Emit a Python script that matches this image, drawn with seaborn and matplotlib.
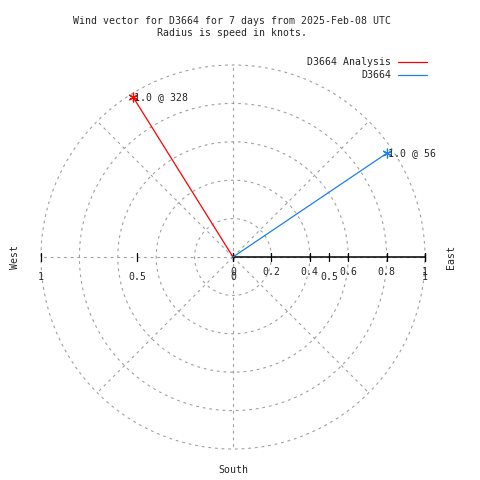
import numpy as np
import pandas as pd
import matplotlib
matplotlib.use("Agg")
import matplotlib.pyplot as plt
import seaborn as sns

# =====================
# Data
# =====================
series_names = ["D3664 Analysis", "D3664"]
speeds = [0.98, 0.97]        # knots (labelled 1.0)
directions = [328, 56]       # degrees, clockwise from north
series_colors = ["#ff0000", "#1a80f0"]

ring_radii = [0.2, 0.4, 0.6, 0.8, 1.0]
spoke_angles = [0, 45, 90, 135, 180, 225, 270, 315]
x_ticks = [-1, -0.5, 0, 0.5, 1]
x_tick_labels = ["1", "0.5", "0", "0.5", "1"]
r_ticks = [0, 0.2, 0.4, 0.6, 0.8, 1]
r_tick_labels = ["0", "0.2", "0.4", "0.6", "0.8", "1"]

title = "Wind vector for D3664 for 7 days from 2025-Feb-08 UTC\nRadius is speed in knots."

# =====================
# Build vector table
# =====================
rows = []
for name, s, d in zip(series_names, speeds, directions):
    rad = np.deg2rad(d)
    rows.append({"name": name, "x": 0.0, "y": 0.0, "step": 0})
    rows.append({"name": name, "x": s * np.sin(rad), "y": s * np.cos(rad), "step": 1})
vec = pd.DataFrame(rows)

# =====================
# Figure set-up (1 knot = 192 px, centre at pixel 233,257)
# =====================
sns.set_style("white")
plt.rcParams['font.family'] = ['DejaVu Sans Mono']
FS = 7.1
GRID = "#a0a0a0"

fig = plt.figure(figsize=(4.8, 4.8), dpi=100)
ax = fig.add_axes([0, 0, 1, 1])
scale = 192.0
ax.set_xlim(-233 / scale, (480 - 233) / scale)
ax.set_ylim(-(480 - 257) / scale, 257 / scale)
ax.set_aspect("equal")
ax.axis("off")

def px(x):
    return (x - 233) / scale

def py(y):
    return (257 - y) / scale

# grid rings and spokes
t = np.linspace(0, 2 * np.pi, 400)
for r in ring_radii:
    ax.plot(r * np.cos(t), r * np.sin(t), color=GRID, lw=0.8,
            dashes=(2.5, 3.5), zorder=1)
for a in spoke_angles:
    rad = np.deg2rad(a)
    ax.plot([0, np.cos(rad)], [0, np.sin(rad)], color=GRID, lw=0.8,
            dashes=(2.5, 3.5), zorder=1)

# radial axis (east) and x axis ticks
ax.plot([0, 1], [0, 0], color="black", lw=1.1, zorder=2)
tick = 4 / scale
for xt, lab in zip(x_ticks, x_tick_labels):
    ax.plot([xt, xt], [-tick, tick], color="black", lw=0.9, zorder=2)
    ax.text(xt, py(277), lab, fontsize=FS, ha="center", va="center")
for rt, lab in zip(r_ticks, r_tick_labels):
    ax.plot([rt, rt], [-tick, tick], color="black", lw=0.9, zorder=2)
    ax.text(rt, py(272), lab, fontsize=FS, ha="center", va="center")

# wind vectors
sns.lineplot(data=vec, x="x", y="y", hue="name", units="name", estimator=None,
             sort=False, palette=series_colors, hue_order=series_names,
             lw=0.9, legend=False, ax=ax, zorder=3)
for name, s, d, c in zip(series_names, speeds, directions, series_colors):
    end = vec[(vec["name"] == name) & (vec["step"] == 1)].iloc[0]
    ax.plot(end["x"], end["y"], marker=(6, 2, 0), ms=7, mew=0.9, color=c, zorder=4)
    ax.text(end["x"] + 1 / scale, end["y"], f"{s:.1f} @ {d}", fontsize=FS,
            ha="left", va="center", zorder=5)

# compass labels
ax.text(px(15), py(257), "West", fontsize=FS, rotation=90, ha="center", va="center")
ax.text(px(451), py(257), "East", fontsize=FS, rotation=90, ha="center", va="center")
ax.text(px(233), py(470), "South", fontsize=FS, ha="center", va="center")

# title
fig.text(232 / 480, 1 - 27 / 480, title, fontsize=FS, ha="center", va="center",
         linespacing=1.35)

# legend drawn by hand, gnuplot style
for i, (name, c) in enumerate(zip(series_names, series_colors)):
    yy = 62 + 13 * i
    fig.text(391 / 480, 1 - yy / 480, name, fontsize=FS, ha="right", va="center")
    fig.add_artist(plt.Line2D([398 / 480, 427 / 480], [1 - yy / 480, 1 - yy / 480],
                              color=c, lw=0.9))

plt.savefig("out.png", dpi=100)
